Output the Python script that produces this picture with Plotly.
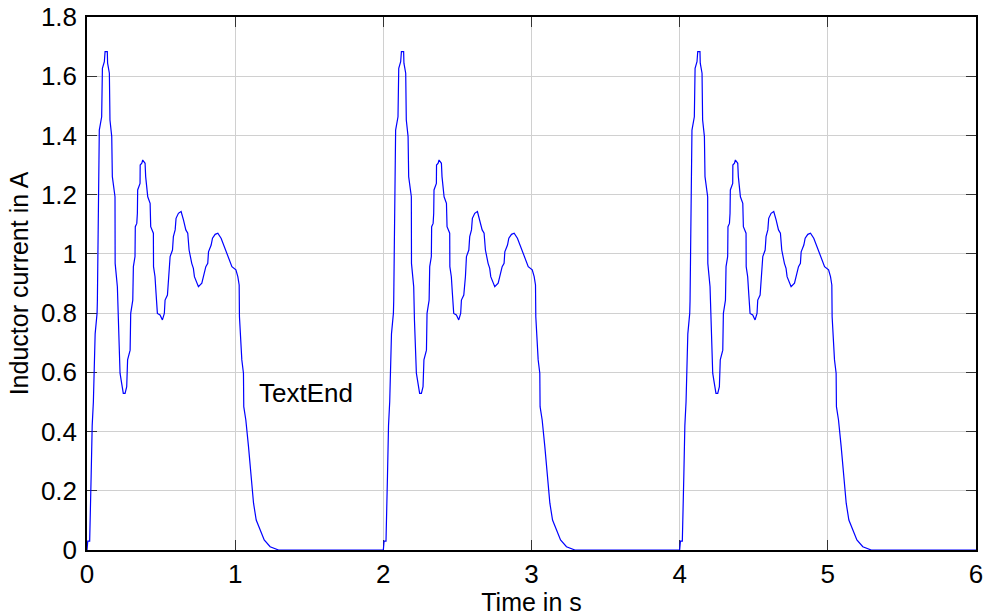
import plotly.graph_objects as go

# One period of the inductor current (time in s, current in A)
cycle_t = [0.000, 0.005, 0.018, 0.022, 0.028, 0.035, 0.043, 0.055, 0.068, 0.070,
           0.076, 0.083, 0.099, 0.104, 0.117, 0.122, 0.137, 0.139, 0.151, 0.155,
           0.167, 0.171, 0.189, 0.190, 0.205, 0.207, 0.210, 0.223, 0.234, 0.245,
           0.257, 0.268, 0.274, 0.291, 0.295, 0.309, 0.313, 0.324, 0.326, 0.336,
           0.340, 0.342, 0.358, 0.359, 0.370, 0.376, 0.392, 0.396, 0.410, 0.426,
           0.430, 0.448, 0.449, 0.459, 0.466, 0.475, 0.493, 0.509, 0.522, 0.527,
           0.543, 0.554, 0.561, 0.577, 0.583, 0.595, 0.601, 0.617, 0.635, 0.651,
           0.667, 0.680, 0.689, 0.707, 0.718, 0.725, 0.741, 0.752, 0.775, 0.786,
           0.802, 0.815, 0.820, 0.838, 0.847, 0.865, 0.883, 0.905, 0.928, 0.944,
           0.959, 0.978, 1.005, 1.018, 1.027, 1.029, 1.045, 1.056, 1.058, 1.072,
           1.090, 1.101, 1.113, 1.124, 1.142, 1.169, 1.196, 1.236, 1.293]
cycle_i = [0.000, 0.030, 0.030, 0.200, 0.250, 0.420, 0.500, 0.730, 0.800, 0.840,
           1.150, 1.418, 1.463, 1.627, 1.649, 1.683, 1.683, 1.644, 1.610, 1.452,
           1.396, 1.261, 1.193, 0.968, 0.889, 0.844, 0.777, 0.597, 0.563, 0.529,
           0.529, 0.552, 0.642, 0.675, 0.799, 0.844, 0.957, 0.991, 1.092, 1.103,
           1.137, 1.216, 1.238, 1.300, 1.306, 1.317, 1.306, 1.261, 1.193, 1.171,
           1.092, 1.070, 0.957, 0.923, 0.867, 0.799, 0.794, 0.777, 0.799, 0.844,
           0.861, 0.923, 0.991, 1.013, 1.058, 1.081, 1.120, 1.137, 1.143, 1.115,
           1.081, 1.070, 1.013, 0.968, 0.951, 0.923, 0.901, 0.889, 0.901, 0.923,
           0.957, 0.968, 1.007, 1.030, 1.053, 1.066, 1.070, 1.053, 1.024, 1.002,
           0.979, 0.957, 0.946, 0.923, 0.895, 0.788, 0.642, 0.597, 0.484, 0.439,
           0.349, 0.281, 0.203, 0.158, 0.101, 0.068, 0.034, 0.011, 0.000]
cycle_starts = [0.0, 2.0, 4.0]
t_end = 6.0

x_ticks = [0, 1, 2, 3, 4, 5, 6]
y_ticks = [0, 0.2, 0.4, 0.6, 0.8, 1.0, 1.2, 1.4, 1.6, 1.8]
y_tick_text = ["0", "0.2", "0.4", "0.6", "0.8", "1", "1.2", "1.4", "1.6", "1.8"]

t_all, i_all = [], []
for s in cycle_starts:
    t_all += [s + v for v in cycle_t]
    i_all += list(cycle_i)
t_all.append(t_end)
i_all.append(0.0)

FONT = "Liberation Sans, Arial"

fig = go.Figure()
fig.add_trace(go.Scatter(x=t_all, y=i_all, mode="lines",
                         line=dict(color="#0000ff", width=1.2),
                         showlegend=False, hoverinfo="skip"))

fig.add_annotation(x=1.15, y=0.53, text="TextEnd", showarrow=False,
                   xanchor="left", yanchor="middle",
                   font=dict(size=26, color="black", family=FONT))

axis_common = dict(showline=True, linecolor="black", linewidth=1.5,
                   mirror="allticks", ticks="inside", ticklen=10, tickwidth=1,
                   tickcolor="#333333", showgrid=True, gridcolor="#d0d0d0",
                   gridwidth=1, zeroline=False, layer="below traces",
                   automargin=False,
                   tickfont=dict(size=26, color="black", family=FONT))

fig.update_xaxes(range=[0, 6], tickvals=x_ticks, ticktext=[str(v) for v in x_ticks],
                 ticklabelstandoff=0,
                 title=dict(text="Time in s", font=dict(size=25, color="black", family=FONT),
                            standoff=4),
                 **axis_common)
fig.update_yaxes(range=[0, 1.8], tickvals=y_ticks, ticktext=y_tick_text,
                 ticklabelstandoff=3,
                 title=dict(text="Inductor current in A",
                            font=dict(size=25, color="black", family=FONT), standoff=5),
                 **axis_common)

fig.update_layout(width=985, height=616,
                  margin=dict(l=87, r=9, t=17, b=66),
                  paper_bgcolor="white", plot_bgcolor="white",
                  font=dict(family=FONT, size=25, color="black"))

fig.write_html("out.html")
